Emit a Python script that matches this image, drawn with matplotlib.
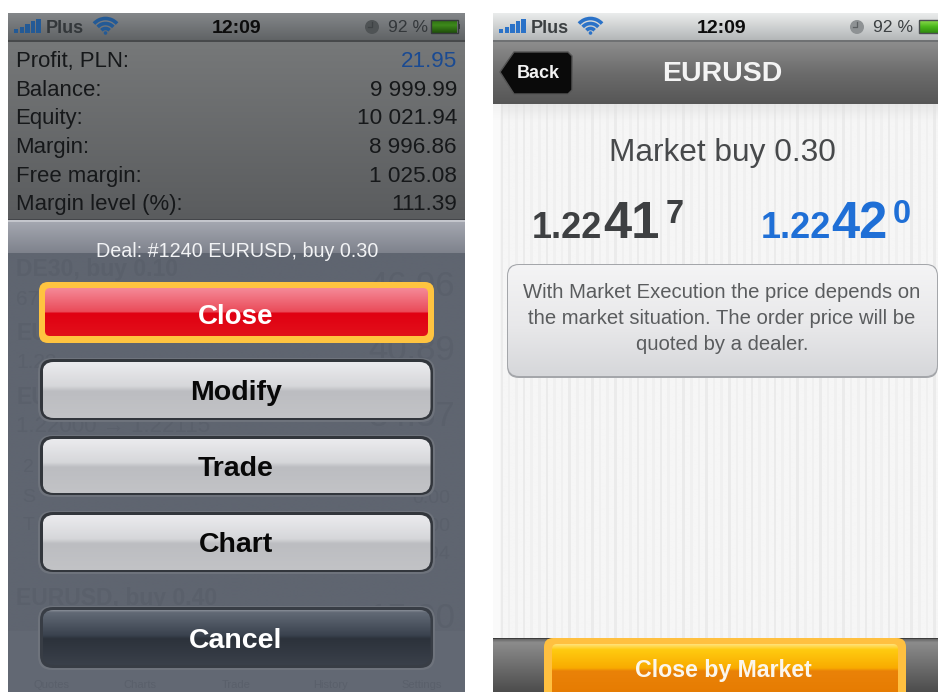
import numpy as np
import matplotlib
matplotlib.use("Agg")
import matplotlib.pyplot as plt
from matplotlib.colors import to_rgb
from matplotlib.patches import FancyBboxPatch, Rectangle, Polygon, Circle, Arc

plt.rcParams['font.family'] = ['Liberation Sans', 'DejaVu Sans']

# ---- content ----
account_labels = ["Profit, PLN:", "Balance:", "Equity:", "Margin:", "Free margin:", "Margin level (%):"]
account_values = ["21.95", "9 999.99", "10 021.94", "8 996.86", "1 025.08", "111.39"]
deal_title = "Deal: #1240 EURUSD, buy 0.30"
menu_buttons = ["Close", "Modify", "Trade", "Chart", "Cancel"]
status_carrier = "Plus"
status_time = "12:09"
status_battery = "92 %"
nav_title = "EURUSD"
back_label = "Back"
order_title = "Market buy 0.30"
bid_parts = ["1.22", "41", "7"]
ask_parts = ["1.22", "42", "0"]
notice_lines = ["With Market Execution the price depends on",
                "the market situation. The order price will be",
                "quoted by a dealer."]
action_label = "Close by Market"
signal_heights = [4, 6, 9, 12, 14]

fig = plt.figure(figsize=(9.38, 6.92), dpi=100, facecolor='white')
ax = fig.add_axes([0, 0, 1, 1])
ax.set_axis_off()


def grad(x0, y0, x1, y1, stops, r=0, z=1):
    fr = np.linspace(0, 1, 256)
    ps = [s[0] for s in stops]
    cs = np.array([to_rgb(s[1]) for s in stops])
    arr = np.stack([np.interp(fr, ps, cs[:, i]) for i in range(3)], axis=1)[:, None, :]
    im = ax.imshow(arr, extent=(x0, x1, y1, y0), aspect='auto', zorder=z, interpolation='bilinear')
    if r:
        clip = FancyBboxPatch((x0, y0), x1 - x0, y1 - y0, boxstyle=f"round,pad=0,rounding_size={r}",
                              transform=ax.transData, fc='none', ec='none')
    else:
        clip = Rectangle((x0, y0), x1 - x0, y1 - y0, transform=ax.transData, fc='none', ec='none')
    ax.add_patch(clip)
    im.set_clip_path(clip)
    return im


def rbox(x0, y0, x1, y1, r, fc='none', ec='none', lw=0, z=2):
    p = FancyBboxPatch((x0, y0), x1 - x0, y1 - y0, boxstyle=f"round,pad=0,rounding_size={r}",
                       fc=fc, ec=ec, lw=lw, zorder=z)
    ax.add_patch(p)
    return p


def txt(x, y, s, size, color, weight='normal', ha='left', z=6):
    return ax.text(x, y, s, fontsize=size, color=color, fontweight=weight, ha=ha, va='baseline', zorder=z)


def status_bar(dx, barc, textc, timec, clockc):
    for i, h in enumerate(signal_heights):
        ax.add_patch(Rectangle((14 + dx + i * 5.6, 33 - h), 4.4, h, fc=barc, ec='none', zorder=5))
    txt(45.5 + dx, 33, status_carrier, 13, textc, 'bold')
    for rr in (5.5, 10.5, 15.5):
        ax.add_patch(Arc((105.5 + dx, 34), 2 * rr, 2 * rr, theta1=222, theta2=318, color=barc, lw=2.6, zorder=5))
    ax.add_patch(Circle((105.5 + dx, 33), 1.8, fc=barc, ec='none', zorder=5))
    txt(236.5 + dx, 33, status_time, 14, timec, 'bold', ha='center')
    ax.add_patch(Circle((372 + dx, 27), 7, fc=clockc, ec='none', zorder=5))
    ax.plot([372 + dx, 372 + dx, 368 + dx], [22, 27, 27], color=textc, lw=0.9, alpha=0.6, zorder=6)
    txt(388 + dx, 32.5, status_battery, 12.6, textc, 'normal')


# ======== left phone ========
grad(8, 13, 465, 41, [(0, '#84878a'), (1, '#5f6264')])
ax.add_patch(Rectangle((8, 40), 457, 2, fc='#47494b', ec='none', zorder=2))
grad(8, 42, 465, 220, [(0, '#767879'), (1, '#5a5c5e')])
status_bar(0, '#235a96', '#33373a', '#0c0c0c', '#4f5355')
grad(431, 20, 457, 33, [(0, '#2d6e12'), (0.4, '#3e8a1c'), (1, '#1e4d0a')], z=5)
ax.add_patch(Rectangle((431, 20), 27, 13, fc='none', ec='#34383a', lw=1, zorder=6))
ax.add_patch(Rectangle((458, 24), 2, 5, fc='#34383a', ec='none', zorder=6))

for lab, val, yb, col in zip(account_labels, account_values, [67, 96, 124, 153, 182, 210],
                             ['#1a4a92', '#16181a', '#16181a', '#16181a', '#16181a', '#16181a']):
    txt(15.5, yb, lab, 15.9, '#16181a')
    txt(457, yb, val, 16.2, col, ha='right')

ax.add_patch(Rectangle((8, 219), 457, 1.2, fc='#44464a', ec='none', zorder=3))
ax.add_patch(Rectangle((8, 220), 457, 2, fc='#c4c6cc', ec='none', zorder=3))
grad(8, 222, 465, 253, [(0, '#a4a7b0'), (1, '#7e828c')])
grad(8, 253, 465, 692, [(0, '#5f6570'), (1, '#5f6570')])
ax.add_patch(Rectangle((8, 631), 457, 61, fc='#626873', ec='none', zorder=1.5))

ghost_color = '#5a606b'
for x, y, s, size, ha in [(16, 276, "DE30, buy 0.10", 16.5, 'left'), (16, 305, "67", 15, 'left'),
                          (16, 340, "EU", 16.5, 'left'), (16, 368, "1.22", 15, 'left'),
                          (16, 404, "EU", 16.5, 'left'), (16, 432, "1.22000 \u2192 1.22115", 16, 'left'),
                          (23, 472, "2", 14, 'left'),
                          (22, 502, "S", 14, 'left'), (23, 530, "T", 14, 'left'),
                          (455, 296, "46.96", 25, 'right'), (455, 360, "40.89", 25, 'right'),
                          (455, 426, "34.57", 25, 'right'), (450, 503, "0.00", 14, 'right'),
                          (450, 531, "0.00", 14, 'right'), (450, 559, "10.94", 14, 'right'),
                          (16, 605, "EURUSD, buy 0.40", 16.5, 'left'), (455, 628, "15.00", 25, 'right')]:
    txt(x, y, s, size, ghost_color, 'bold' if 'buy' in s or s in ('EU', 'DE') else 'normal', ha=ha, z=2)
for x, s in zip([52, 140, 236, 330, 422], ["Quotes", "Charts", "Trade", "History", "Settings"]):
    txt(x, 688, s, 8, ghost_color, ha='center', z=2)

txt(237, 257, deal_title, 14.2, '#f2f3f5', ha='center')

# close
rbox(39, 282, 434, 343, 9, fc='#ffc440', z=4)
grad(45, 288, 428, 336, [(0, '#f58a98'), (0.5, '#ea4a58'), (0.52, '#e00012'), (1, '#e2101a')], r=5, z=5)
txt(235.5, 324, menu_buttons[0], 20, 'white', 'bold', ha='center')

# grey buttons
light = [(0, '#ebebee'), (0.43, '#d6d7da'), (0.52, '#bcbdc1'), (1, '#c2c3c6')]
for lab, y0, y1, yb in zip(menu_buttons[1:4], [358, 435, 511], [422, 497, 574], [400, 476, 552]):
    rbox(38, y0, 435, y1, 14, fc='#6e737c', z=3)
    rbox(40, y0 + 1, 433, y1 - 2, 13, fc='#32363c', z=4)
    grad(42.5, y0 + 4, 430.5, y1 - 4, light, r=11, z=5)
    txt(236, yb, lab, 20.5, '#080808', 'bold', ha='center')

# cancel
rbox(38, 606, 435, 670, 14, fc='#6e737c', z=3)
rbox(40, 607, 433, 668, 13, fc='#383d45', z=4)
grad(42.5, 610, 430.5, 665, [(0, '#8a8f98'), (0.04, '#626a76'), (0.46, '#3a424e'), (0.52, '#2c323b'), (1, '#3a404a')], r=11, z=5)
txt(235.5, 648, menu_buttons[4], 20.5, 'white', 'bold', ha='center')

# ======== right phone ========
grad(493, 13, 938, 41, [(0, '#eaecec'), (1, '#b2b5b6')])
ax.add_patch(Rectangle((493, 40), 445, 1.5, fc='#6f7173', ec='none', zorder=2))
grad(493, 41, 938, 104, [(0, '#8e8e8e'), (0.5, '#6c6c6c'), (1, '#565656')])
status_bar(485, '#2a72c8', '#3c4042', '#0c0c0c', '#8e9294')
grad(919, 20, 938, 33, [(0, '#8fdc50'), (0.5, '#4cb81c'), (1, '#2e8a0e')], z=5)
ax.add_patch(Rectangle((919, 20), 22, 13, fc='none', ec='#4a4e50', lw=1, zorder=6))

# back button
back = Polygon([(500, 72), (514, 52), (568, 52), (572, 56), (572, 90), (568, 94), (514, 94)],
               closed=True, fc='#0a0a0a', ec='#555555', lw=1, zorder=4, joinstyle='round')
ax.add_patch(back)
txt(538, 78, back_label, 13, '#f2f2f2', 'bold', ha='center')
txt(722, 81, nav_title, 20.5, '#f4f4f4', 'bold', ha='center')

# striped body
grad(493, 104, 938, 638, [(0, '#e8e8e8'), (0.03, '#f6f6f6'), (1, '#f6f6f6')])
for i, sx in enumerate(np.arange(500, 938, 7.6)):
    ax.add_patch(Rectangle((sx, 104), 2.6, 534, fc='#dcdcdc', ec='none', alpha=0.2 if i % 3 else 0.4, zorder=1.5))
ax.add_patch(Rectangle((493, 104), 8, 534, fc='#ffffff', ec='none', alpha=0.5, zorder=1.6))

txt(722.5, 161, order_title, 22.8, '#47494b', ha='center')

dark = '#3e4042'
blue = '#1f6fd6'
for parts, col, x0, x1, x2 in [(bid_parts, dark, 532, 603, 666), (ask_parts, blue, 761, 831, 893)]:
    txt(x0, 238, parts[0], 26, col, 'bold')
    txt(x1, 238, parts[1], 36.5, col, 'bold')
    txt(x2, 223, parts[2], 23.5, col, 'bold')

rbox(507, 264, 938, 378, 12, fc='#a4a6aa', z=3)
grad(508, 265, 937, 376, [(0, '#f4f4f5'), (0.55, '#e8e8ea'), (1, '#d6d7da')], r=11, z=4)
for line, yb in zip(notice_lines, [298, 324, 350]):
    txt(722, yb, line, 14.6, '#5a5c5e', ha='center')

# bottom bar
grad(493, 638, 938, 692, [(0, '#5a5a5a'), (0.08, '#8c8c8c'), (1, '#4c4c4c')])
ax.add_patch(Rectangle((493, 637.5), 445, 1, fc='#3c3c3c', ec='none', zorder=3))
rbox(544, 638, 906, 704, 9, fc='#ffc040', z=4)
grad(552, 644, 898, 700, [(0, '#ffe27a'), (0.1, '#ffcb10'), (0.43, '#f9ab00'), (0.48, '#ea8208'), (1, '#e57a00')], r=5, z=5)
txt(723, 677, action_label, 16.7, '#fbf6ec', 'bold', ha='center')

ax.set_xlim(0, 938)
ax.set_ylim(692, 0)
fig.savefig('out.png', dpi=100, facecolor='white')
